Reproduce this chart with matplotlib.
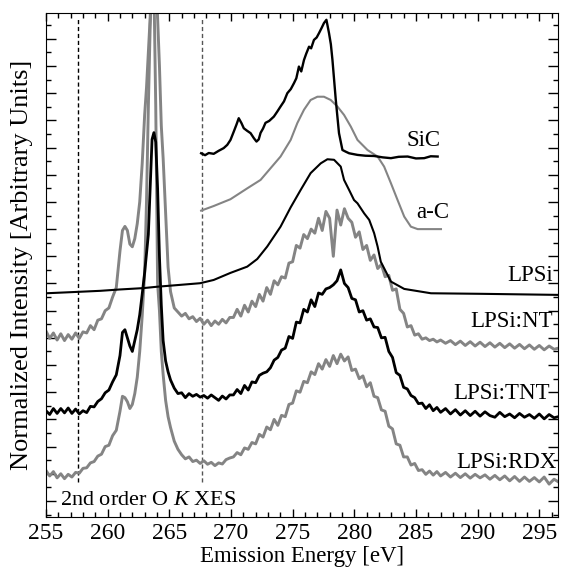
import matplotlib
matplotlib.use("Agg")
import matplotlib.pyplot as plt
from matplotlib.ticker import MultipleLocator, NullFormatter

plt.rcParams['font.family'] = ['Liberation Serif', 'DejaVu Serif']
plt.rcParams['mathtext.fontset'] = 'custom'
plt.rcParams['mathtext.rm'] = 'Liberation Serif'
plt.rcParams['mathtext.it'] = 'Liberation Serif:italic'
plt.rcParams['font.size'] = 16

# energia comun de los espectros LPSi:NT, LPSi:TNT, LPSi:RDX
energia = [255.0, 255.3, 255.6, 255.9, 256.2, 256.5, 256.8, 257.1, 257.4, 257.7,
           258.0, 258.3, 258.6, 258.9, 259.2, 259.5, 259.8, 260.1, 260.4, 260.7,
           261.0, 261.2, 261.4, 261.6, 261.8, 262.0, 262.2, 262.4, 262.6, 262.8,
           263.0, 263.15, 263.3, 263.45, 263.6, 263.75, 263.9, 264.05, 264.2, 264.35,
           264.5, 264.7, 264.9, 265.1, 265.4, 265.7, 266.0, 266.3, 266.6, 266.9,
           267.2, 267.5, 267.8, 268.1, 268.4, 268.7, 269.0, 269.3, 269.6, 269.9,
           270.2, 270.5, 270.8, 271.1, 271.4, 271.7, 272.0, 272.3, 272.6, 272.9,
           273.2, 273.5, 273.8, 274.1, 274.4, 274.7, 275.0, 275.3, 275.6, 275.9,
           276.2, 276.5, 276.8, 277.1, 277.4, 277.7, 278.0, 278.3, 278.6, 278.9,
           279.2, 279.5, 279.8, 280.1, 280.4, 280.7, 281.0, 281.3, 281.6, 281.9,
           282.2, 282.5, 282.8, 283.1, 283.4, 283.7, 284.0, 284.3, 284.6, 284.9,
           285.2, 285.5, 285.8, 286.1, 286.4, 286.7, 287.0, 287.4, 287.8, 288.2,
           288.6, 289.0, 289.4, 289.8, 290.2, 290.6, 291.0, 291.4, 291.8, 292.2,
           292.6, 293.0, 293.4, 293.8, 294.2, 294.6, 295.0, 295.4, 295.8, 296.2,
           296.7]

nt = [6.25, 5.98, 6.18, 5.92, 6.15, 5.90, 6.12, 5.95, 6.18, 5.98,
      6.22, 6.18, 6.45, 6.30, 6.65, 6.70, 7.00, 7.10, 7.50, 7.85,
      9.20, 9.95, 10.10, 9.95, 9.45, 9.35, 9.65, 10.2, 11.0, 12.4,
      14.2, 15.2, 16.5, 17.8, 19.5, 20.0, 19.5, 17.8, 16.0, 13.8,
      12.6, 10.6, 8.60, 7.70, 7.10, 6.95, 6.80, 6.90, 6.70, 6.78,
      6.60, 6.72, 6.50, 6.65, 6.45, 6.62, 6.50, 6.68, 6.55, 6.75,
      6.75, 7.05, 6.80, 7.20, 6.95, 7.35, 7.15, 7.60, 7.35, 7.85,
      7.60, 8.10, 7.95, 8.25, 8.20, 8.75, 8.80, 9.40, 9.30, 9.80,
      9.65, 10.00, 9.85, 10.40, 9.95, 10.65, 10.40, 9.00, 10.70, 10.15,
      10.75, 10.40, 10.25, 9.70, 9.90, 9.25, 9.40, 8.85, 9.05, 8.55,
      8.70, 8.25, 8.30, 7.75, 7.80, 7.05, 6.90, 6.40, 6.45, 6.10,
      6.15, 5.95, 6.00, 5.90, 5.95, 5.85, 5.92, 5.80, 5.90, 5.75,
      5.88, 5.72, 5.86, 5.70, 5.84, 5.68, 5.82, 5.66, 5.80, 5.64,
      5.78, 5.62, 5.76, 5.60, 5.74, 5.58, 5.72, 5.56, 5.70, 5.58,
      5.64]

tnt = [3.32, 3.18, 3.40, 3.22, 3.40, 3.24, 3.42, 3.22, 3.38, 3.20,
       3.32, 3.25, 3.48, 3.46, 3.66, 3.76, 3.98, 4.08, 4.38, 4.64,
       5.35, 6.20, 6.30, 6.00, 5.70, 5.50, 5.90, 6.30, 6.85, 7.60,
       8.40, 9.10, 9.80, 11.6, 13.3, 13.55, 13.2, 11.5, 9.0, 7.2,
       5.90, 5.15, 4.75, 4.45, 4.15, 3.95, 3.98, 3.80, 3.95, 3.85,
       3.92, 3.82, 3.88, 3.78, 3.90, 3.80, 3.70, 3.86, 3.75, 3.90,
       3.90, 4.10, 3.95, 4.25, 4.08, 4.38, 4.35, 4.62, 4.70, 4.75,
       4.90, 5.18, 5.28, 5.55, 5.62, 6.05, 5.98, 6.58, 6.55, 7.05,
       6.95, 7.40, 7.15, 7.65, 7.60, 7.80, 7.85, 7.95, 8.10, 8.50,
       8.00, 7.85, 7.45, 7.40, 6.95, 7.00, 6.65, 6.70, 6.40, 6.38,
       6.00, 6.02, 5.50, 5.28, 4.72, 4.62, 4.18, 4.12, 3.88, 3.80,
       3.58, 3.60, 3.40, 3.54, 3.32, 3.44, 3.26, 3.40, 3.20, 3.36,
       3.16, 3.32, 3.14, 3.30, 3.12, 3.28, 3.14, 3.08, 3.26, 3.10,
       3.20, 3.06, 3.22, 3.08, 3.18, 3.04, 3.20, 3.02, 3.18, 3.06,
       3.12]

rdx = [1.12, 0.92, 1.08, 0.85, 1.00, 0.82, 0.98, 0.88, 1.05, 1.02,
       1.20, 1.22, 1.40, 1.45, 1.65, 1.72, 2.00, 2.05, 2.40, 2.60,
       3.30, 3.85, 3.80, 3.65, 3.40, 3.55, 3.95, 4.55, 5.50, 6.80,
       8.40, 11.0, 14.5, 17.5, 19.5, 19.0, 14.5, 8.0, 7.0, 5.50,
       4.65, 3.70, 3.10, 2.70, 2.20, 1.90, 1.70, 1.55, 1.62, 1.45,
       1.50, 1.38, 1.48, 1.35, 1.42, 1.30, 1.40, 1.36, 1.52, 1.58,
       1.62, 1.78, 1.70, 1.95, 1.90, 2.15, 2.10, 2.45, 2.35, 2.72,
       2.62, 3.00, 2.78, 3.15, 3.10, 3.55, 3.60, 4.05, 4.00, 4.40,
       4.35, 4.75, 4.65, 5.05, 4.85, 5.20, 4.95, 5.35, 5.05, 5.40,
       5.15, 5.30, 4.80, 4.85, 4.50, 4.60, 4.20, 4.35, 3.85, 3.80,
       3.35, 3.30, 2.75, 2.65, 2.10, 2.05, 1.62, 1.62, 1.32, 1.38,
       1.12, 1.15, 0.98, 1.10, 0.95, 1.08, 0.92, 1.05, 0.88, 1.02,
       0.86, 1.00, 0.84, 0.98, 0.85, 0.96, 0.80, 0.94, 0.78, 0.92,
       0.74, 0.90, 0.72, 0.88, 0.72, 0.86, 0.70, 0.88, 0.62, 0.80,
       0.66]

# LPSi (referencia)
lpsi_x = [255.0, 257.0, 259.4, 261.0, 262.9, 264.0, 265.9, 267.5, 268.6, 269.96,
          271.32, 272.13, 272.94, 274.02, 274.84, 275.65, 276.46, 277.28, 277.82, 278.36,
          278.9, 279.17, 279.58, 279.98, 280.26, 280.80, 281.21, 281.61, 281.89, 282.15,
          282.97, 284.05, 286.22, 290.28, 296.63]
lpsi_y = [7.64, 7.68, 7.73, 7.78, 7.83, 7.88, 7.95, 8.01, 8.13, 8.39,
          8.62, 8.90, 9.36, 10.09, 10.80, 11.44, 12.06, 12.42, 12.57, 12.55,
          12.30, 11.81, 11.44, 11.07, 10.95, 10.58, 10.34, 9.85, 9.36, 8.80,
          8.07, 7.80, 7.64, 7.62, 7.58]

# SiC
sic_x = [267.58, 267.9, 268.2, 268.6, 269.0, 269.41, 269.7, 269.96, 270.23, 270.45,
         270.63, 270.85, 271.04, 271.3, 271.59, 271.85, 272.07, 272.25, 272.40, 272.6,
         272.80, 273.1, 273.48, 273.75, 274.02, 274.3, 274.57, 274.85, 275.11, 275.3,
         275.51, 275.7, 275.92, 276.1, 276.33, 276.5, 276.73, 276.95, 277.14, 277.35,
         277.54, 277.74, 277.95, 278.1, 278.23, 278.50, 278.76, 279.04, 279.3, 279.58,
         280.26, 280.9, 281.61, 282.3, 282.97, 283.6, 284.33, 285.0, 285.67, 286.2,
         286.76]
sic_y = [12.79, 12.72, 12.80, 12.77, 12.88, 12.98, 13.10, 13.28, 13.59, 13.85,
         14.08, 13.90, 13.71, 13.62, 13.53, 13.35, 13.22, 13.30, 13.54, 13.70,
         13.91, 13.98, 14.14, 14.32, 14.51, 14.70, 15.00, 15.15, 15.37, 15.55,
         15.98, 15.80, 16.22, 16.45, 16.71, 16.65, 16.96, 17.05, 17.21, 17.40,
         17.58, 17.70, 17.21, 16.80, 16.22, 14.75, 13.53, 12.91, 12.85, 12.79,
         12.73, 12.70, 12.69, 12.64, 12.61, 12.66, 12.67, 12.60, 12.61, 12.68,
         12.67]

# a-C
ac_x = [267.58, 268.60, 269.96, 271.32, 272.40, 273.21, 274.02, 274.84, 275.38, 275.92,
        276.46, 277.01, 277.54, 278.09, 278.63, 279.17, 279.72, 280.26, 281.07, 281.89,
        282.42, 282.97, 283.51, 284.05, 284.59, 285.14, 286.22, 287.03]
ac_y = [10.68, 10.85, 11.10, 11.50, 11.81, 12.24, 12.67, 13.28, 13.90, 14.39,
        14.75, 14.87, 14.87, 14.75, 14.51, 14.20, 13.77, 13.28, 12.91, 12.67,
        12.30, 11.69, 11.07, 10.46, 10.09, 10.00, 10.00, 10.00]

gris = '#848484'

fig = plt.figure(figsize=(5.61, 5.72), dpi=100)
ax = fig.add_axes([46 / 561, 1 - 517 / 572, 512 / 561, 504 / 572])

ax.vlines(257.6, 0.7, 17.77, colors='black', linestyles=(0, (3, 2)), lw=1.0)
ax.vlines(267.65, 0.7, 17.77, colors='#555555', linestyles=(0, (3, 2)), lw=1.0)

ax.plot(energia, rdx, color=gris, lw=2.1)
ax.plot(energia, nt, color=gris, lw=2.1)
ax.plot(energia, tnt, color='black', lw=2.0)
ax.plot(lpsi_x, lpsi_y, color='black', lw=1.5)
ax.plot(ac_x, ac_y, color=gris, lw=1.5)
ax.plot(sic_x, sic_y, color='black', lw=1.7)

fs = 16.5
ax.text(287.0, 13.25, "SiC", ha='right', va='center', fontsize=fs)
ax.text(287.7, 10.6, "a-C", ha='right', va='center', fontsize=fs)
ax.text(296.1, 8.31, "LPSi", ha='right', va='center', fontsize=fs)
ax.text(296.1, 6.59, "LPSi:NT", ha='right', va='center', fontsize=fs)
ax.text(295.9, 3.97, "LPSi:TNT", ha='right', va='center', fontsize=fs)
ax.text(296.4, 1.43, "LPSi:RDX", ha='right', va='center', fontsize=fs)
ax.text(256.1, 0.0, "2nd order O $K$ XES", ha='left', va='center', fontsize=16)

ax.set_xlim(255, 296.52)
ax.set_ylim(-0.59, 17.95)
ax.xaxis.set_major_locator(MultipleLocator(5))
ax.xaxis.set_minor_locator(MultipleLocator(1))
ax.yaxis.set_major_locator(MultipleLocator(1))
ax.yaxis.set_minor_locator(MultipleLocator(0.5))
ax.yaxis.set_major_formatter(NullFormatter())
ax.tick_params(which='both', direction='in', top=True, right=True, width=1)
ax.tick_params(axis='x', which='major', length=6, labelsize=17, pad=4)
ax.tick_params(axis='x', which='minor', length=3.5)
ax.tick_params(axis='y', which='major', length=7)
ax.tick_params(axis='y', which='minor', length=3.5)

ax.set_xlabel("Emission Energy [eV]", fontsize=16.5, labelpad=2)
ax.set_ylabel("Normalized Intensity [Arbitrary Units]", fontsize=19, labelpad=6)

plt.savefig("out.png", dpi=100)
